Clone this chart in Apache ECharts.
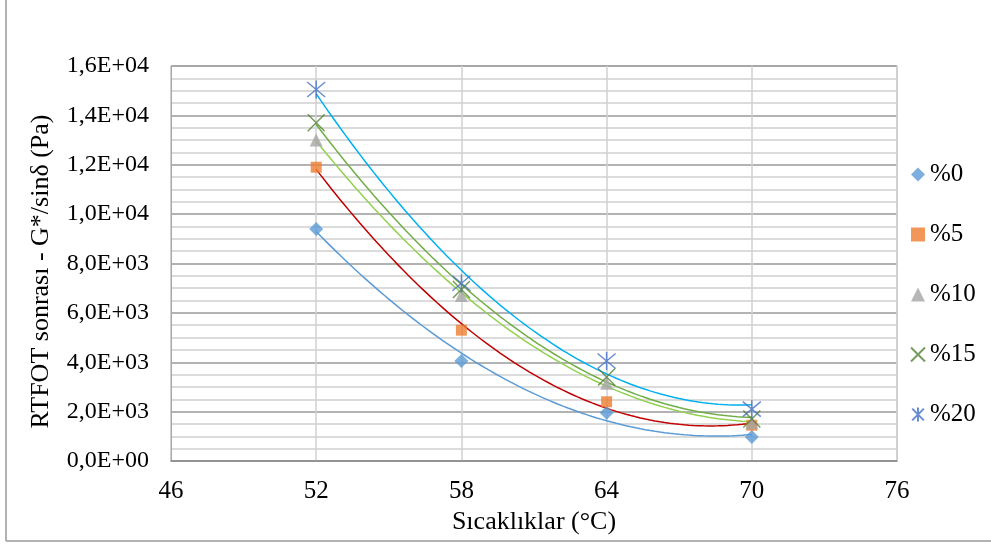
<!DOCTYPE html>
<html>
<head>
<meta charset="utf-8">
<script src="https://cdn.jsdelivr.net/npm/echarts@6/dist/echarts.min.js"></script>
<style>
html,body{margin:0;padding:0;background:#fff;}
#chart{width:991px;height:544px;}
</style>
</head>
<body>
<div id="chart"></div>
<script>
// ---- data ----
var temperatures = [52, 58, 64, 70];
var seriesNames = ['%0', '%5', '%10', '%15', '%20'];
var val0  = [9400, 4050, 1950, 970];
var val5  = [11900, 5300, 2400, 1450];
var val10 = [13000, 6700, 3150, 1550];
var val15 = [13700, 6950, 3400, 1700];
var val20 = [15050, 7200, 4050, 2100];
var xTicks = [46, 52, 58, 64, 70, 76];
var yTicks = [0, 2000, 4000, 6000, 8000, 10000, 12000, 14000, 16000];

var allValues = [val0, val5, val10, val15, val20];
var markerColors = ['#5B9BD5', '#ED7D31', '#A5A5A5', '#548235', '#4472C4'];
var trendColors = ['#5B9BD5', '#C00000', '#92D050', '#70AD47', '#00B0F0'];
var symbols = [
  'diamond',
  'rect',
  'triangle',
  'path://M0,0L20,20M20,0L0,20',
  'path://M0,0L20,20M20,0L0,20M10,-2L10,22'
];
var sizes = [14, 11, 13, 17, 18];

// quadratic least-squares trendline (Excel polynomial order 2)
function quadFit(xs, ys) {
  var n = xs.length, s = [0,0,0,0,0], t = [0,0,0];
  for (var i = 0; i < n; i++) {
    var x = xs[i], y = ys[i];
    for (var k = 0; k < 5; k++) s[k] += Math.pow(x, k);
    for (var k2 = 0; k2 < 3; k2++) t[k2] += y * Math.pow(x, k2);
  }
  var A = [[s[0], s[1], s[2], t[0]], [s[1], s[2], s[3], t[1]], [s[2], s[3], s[4], t[2]]];
  for (var c = 0; c < 3; c++) {
    for (var r = c + 1; r < 3; r++) {
      var f = A[r][c] / A[c][c];
      for (var j = c; j < 4; j++) A[r][j] -= f * A[c][j];
    }
  }
  var coef = [0,0,0];
  for (var r2 = 2; r2 >= 0; r2--) {
    var sum = A[r2][3];
    for (var j2 = r2 + 1; j2 < 3; j2++) sum -= A[r2][j2] * coef[j2];
    coef[r2] = sum / A[r2][r2];
  }
  return coef;
}
function trend(xs, ys) {
  var c = quadFit(xs, ys), out = [];
  var x0 = xs[0], x1 = xs[xs.length - 1];
  for (var i = 0; i <= 90; i++) {
    var x = x0 + (x1 - x0) * i / 90;
    out.push([x, c[0] + c[1] * x + c[2] * x * x]);
  }
  return out;
}

function fmtY(v) {
  if (v === 0) return '0,0E+00';
  var e = Math.floor(Math.log10(Math.abs(v)) + 1e-9);
  var m = v / Math.pow(10, e);
  var es = (e < 10 ? '0' : '') + e;
  return m.toFixed(1).replace('.', ',') + 'E+' + es;
}

var font = '"Liberation Serif", "Times New Roman", serif';
var series = [];
allValues.forEach(function (vals, i) {
  series.push({
    name: seriesNames[i] + '_trend',
    type: 'line',
    data: trend(temperatures, vals),
    showSymbol: false,
    symbol: 'none',
    smooth: false,
    lineStyle: { color: trendColors[i], width: 1.5 },
    z: 2,
    silent: true
  });
});
allValues.forEach(function (vals, i) {
  var isPath = symbols[i].indexOf('path://') === 0;
  series.push({
    name: seriesNames[i],
    type: 'scatter',
    data: temperatures.map(function (t, k) { return [t, vals[k]]; }),
    symbol: symbols[i],
    symbolSize: sizes[i],
    itemStyle: isPath ? { color: 'rgba(0,0,0,0)', borderColor: markerColors[i], borderWidth: 1.5 } : { color: markerColors[i] },
    z: 3
  });
});

var chart = echarts.init(document.getElementById('chart'), null, { renderer: 'canvas' });
chart.setOption({
  animation: false,
  backgroundColor: '#fff',
  grid: { left: 171, right: 94, top: 66, bottom: 83, show: true, borderColor: '#a6a6a6', borderWidth: 1 },
  xAxis: {
    type: 'value',
    min: xTicks[0], max: xTicks[xTicks.length - 1], interval: 6,
    name: 'Sıcaklıklar (°C)',
    nameLocation: 'middle',
    nameGap: 45,
    nameTextStyle: { fontFamily: font, fontSize: 26, color: '#000' },
    axisLine: { show: true, lineStyle: { color: '#8c8c8c', width: 1.5 } },
    axisTick: { show: false },
    axisLabel: { fontFamily: font, fontSize: 25, color: '#000', margin: 18 },
    splitLine: { show: true, lineStyle: { color: '#d0d0d0', width: 1.5 } }
  },
  yAxis: {
    type: 'value',
    min: yTicks[0], max: yTicks[yTicks.length - 1], interval: 2000,
    name: 'RTFOT sonrası - G*/sinδ (Pa)',
    nameLocation: 'middle',
    nameGap: 117,
    nameTextStyle: { fontFamily: font, fontSize: 26, color: '#000', padding: [0, 16, 0, 0] },
    axisLine: { show: true, lineStyle: { color: '#a6a6a6', width: 1 } },
    axisTick: { show: false },
    minorTick: { show: false, splitNumber: 4 },
    minorSplitLine: { show: true, lineStyle: { color: '#d0d0d0', width: 1.5 } },
    axisLabel: { fontFamily: font, fontSize: 24, color: '#000', margin: 22, formatter: fmtY },
    splitLine: { show: true, lineStyle: { color: '#9a9a9a', width: 1.5 } }
  },
  legend: {
    orient: 'vertical',
    left: 905,
    top: 157,
    itemGap: 35,
    itemWidth: 14,
    itemHeight: 14,
    data: seriesNames,
    textStyle: { fontFamily: font, fontSize: 25, lineHeight: 25, color: '#000', padding: [0, 0, 0, 0] }
  },
  graphic: [
    { type: 'line', shape: { x1: 6, y1: 0, x2: 6, y2: 541 }, style: { stroke: '#9a9a9a', lineWidth: 1.5 }, z: 10 },
    { type: 'line', shape: { x1: 6, y1: 541, x2: 991, y2: 541 }, style: { stroke: '#9a9a9a', lineWidth: 1.5 }, z: 10 }
  ],
  series: series
});
</script>
</body>
</html>
